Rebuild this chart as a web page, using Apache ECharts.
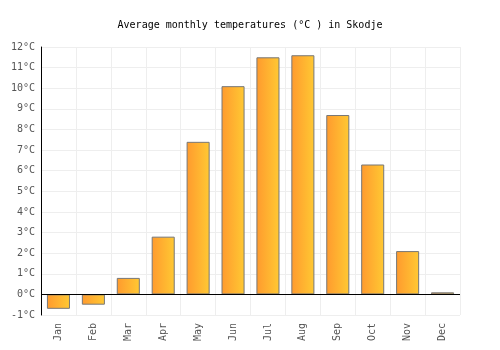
<!DOCTYPE html>
<html><head><meta charset="utf-8">
<script src="https://cdn.jsdelivr.net/npm/echarts@6/dist/echarts.min.js"></script>
<style>html,body{margin:0;padding:0;background:#fff}#c{width:500px;height:350px}</style>
</head><body><div id="c"></div>
<script>
const months = ['Jan','Feb','Mar','Apr','May','Jun','Jul','Aug','Sep','Oct','Nov','Dec'];
const temps = [-0.7,-0.5,0.8,2.8,7.4,10.1,11.5,11.6,8.7,6.3,2.1,0.1];
const chart = echarts.init(document.getElementById('c'));
const font = '"DejaVu Sans Mono", monospace';
chart.setOption({
  animation:false,
  title:{text:'Average monthly temperatures (°C ) in Skodje',left:'center',top:15,
    textStyle:{fontFamily:font,fontSize:10,fontWeight:'normal',color:'#000'}},
  grid:{left:41,right:40,top:47,bottom:35},
  xAxis:{type:'category',data:months,
    axisLine:{show:false},axisTick:{show:false},
    splitLine:{show:true,lineStyle:{color:'#eee'}},
    axisLabel:{rotate:90,fontFamily:font,fontSize:10,color:'#555',margin:8}},
  yAxis:{type:'value',min:-1,max:12,interval:1,
    axisLine:{show:true,lineStyle:{color:'#000'}},axisTick:{show:false},
    splitLine:{lineStyle:{color:'#eee'}},
    axisLabel:{formatter:'{value}°C',fontFamily:font,fontSize:10,color:'#555',margin:6}},
  series:[{type:'bar',data:temps,barWidth:'66%',
    itemStyle:{borderColor:'#777',borderWidth:1,
      color:new echarts.graphic.LinearGradient(0,0,1,0,[{offset:0,color:'#ff9a2e'},{offset:1,color:'#ffc933'}])},
    markLine:{silent:true,symbol:'none',label:{show:false},lineStyle:{color:'#000',type:'solid',width:1},data:[{yAxis:0}]}
  }]
});
</script></body></html>
